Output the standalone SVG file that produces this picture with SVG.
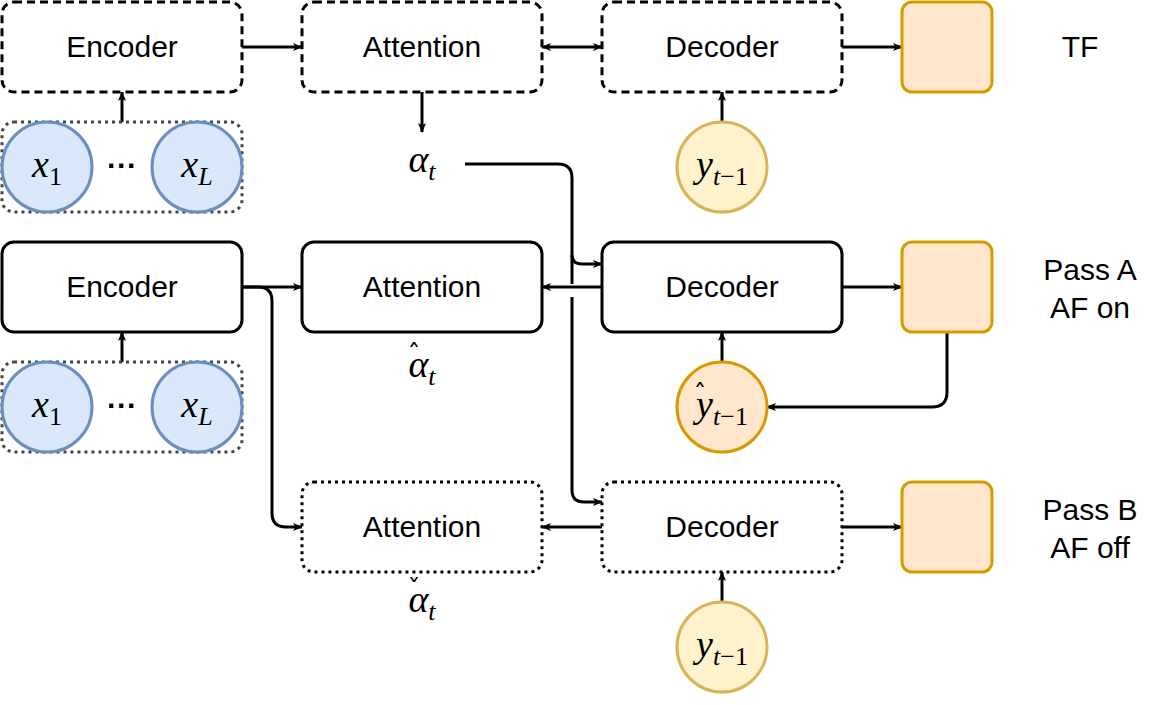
<svg xmlns="http://www.w3.org/2000/svg" width="1173" height="705" viewBox="0 0 1173 705">
<defs>
<marker id="ah" markerWidth="10" markerHeight="8" refX="9" refY="4" orient="auto" markerUnits="userSpaceOnUse"><path d="M0,0 L10,4 L0,8 L2.5,4 Z" fill="#000"/></marker>
<marker id="as" markerWidth="10" markerHeight="8" refX="1" refY="4" orient="auto" markerUnits="userSpaceOnUse"><path d="M10,0 L0,4 L10,8 L7.5,4 Z" fill="#000"/></marker>
<style>
.box{fill:#fff;stroke:#000;stroke-width:3}
.dash{stroke-dasharray:8 5}
.dot{stroke-dasharray:3 4}
.grp{fill:none;stroke:#444;stroke-width:3;stroke-dasharray:3 4}
.t{font-family:"Liberation Sans",Arial,sans-serif;font-size:30px;text-anchor:middle;fill:#000}
.m{font-family:"Liberation Serif","DejaVu Serif",serif;font-style:italic;font-size:38px;text-anchor:middle;fill:#000}
.s{font-size:26px}
.u{font-style:normal}
.acc{font-family:"DejaVu Sans",sans-serif;font-size:26px;text-anchor:middle;fill:#000}
.sq{fill:#ffe6cc;stroke:#d79b00;stroke-width:3}
.xc{fill:#dae8fc;stroke:#6c8ebf;stroke-width:3}
.yc{fill:#fff2cc;stroke:#d6b656;stroke-width:3}
.oc{fill:#ffe6cc;stroke:#d79b00;stroke-width:3}
.c{fill:none;stroke:#000;stroke-width:3;marker-end:url(#ah)}
.l{fill:none;stroke:#000;stroke-width:3}
</style>
</defs>
<g id="connectors">
<path class="c" d="M122,122 V92"/>
<path class="c" d="M242,47 H302"/>
<path class="c" d="M542,47 H602" style="marker-start:url(#as)"/>
<path class="c" d="M842,47 H902"/>
<path class="c" d="M422,92 V132"/>
<path class="c" d="M722,122 V92"/>
<path class="c" d="M465,164 H558 Q572,164 572,178 V255 Q572,264 582,264 H602"/>
<path class="l" d="M572,255 V284"/>
<path class="c" d="M572,297 V490 Q572,502 584,502 H602"/>
<path class="c" d="M122,362 V332"/>
<path class="c" d="M242,287 H302"/>
<path class="c" d="M242,287 H258 Q272,287 272,301 V513 Q272,527 286,527 H302"/>
<path class="c" d="M602,287 H542"/>
<path class="c" d="M842,287 H902"/>
<path class="c" d="M947,332 V392 Q947,407 932,407 H767"/>
<path class="c" d="M722,362 V332"/>
<path class="c" d="M602,527 H542"/>
<path class="c" d="M842,527 H902"/>
<path class="c" d="M722,602 V572"/>
</g>
<g id="enc1"><rect class="box dash" x="2" y="2" width="240" height="90" rx="12"/><text class="t" x="122" y="57">Encoder</text></g>
<g id="att1"><rect class="box dash" x="302" y="2" width="240" height="90" rx="12"/><text class="t" x="422" y="57">Attention</text></g>
<g id="dec1"><rect class="box dash" x="602" y="2" width="240" height="90" rx="12"/><text class="t" x="722" y="57">Decoder</text></g>
<g id="out1"><rect class="sq" x="902" y="2" width="90" height="90" rx="10"/></g>
<g id="tf"><text class="t" x="1080" y="57">TF</text></g>
<g id="in1"><rect class="grp" x="2" y="122" width="240" height="90" rx="12"/>
<circle class="xc" cx="47" cy="167" r="45"/><circle class="xc" cx="197" cy="167" r="45"/>
<text class="m" x="47" y="177">x<tspan class="s u" dy="8">1</tspan></text>
<text class="m" x="197" y="177">x<tspan class="s" dy="8">L</tspan></text>
<text class="t" x="122" y="176" style="font-weight:bold">···</text></g>
<g id="a1"><text class="m" x="422" y="172">α<tspan class="s" dy="8">t</tspan></text></g>
<g id="y1"><circle class="yc" cx="722" cy="167" r="45"/><text class="m" x="722" y="177">y<tspan class="s" dy="8">t<tspan class="u">−1</tspan></tspan></text></g>
<g id="enc2"><rect class="box" x="2" y="242" width="240" height="90" rx="12"/><text class="t" x="122" y="297">Encoder</text></g>
<g id="att2"><rect class="box" x="302" y="242" width="240" height="90" rx="12"/><text class="t" x="422" y="297">Attention</text></g>
<g id="dec2"><rect class="box" x="602" y="242" width="240" height="90" rx="12"/><text class="t" x="722" y="297">Decoder</text></g>
<g id="out2"><rect class="sq" x="902" y="242" width="90" height="90" rx="10"/></g>
<g id="passA"><text class="t" x="1090" y="280">Pass A</text><text class="t" x="1090" y="318">AF on</text></g>
<g id="in2"><rect class="grp" x="2" y="362" width="240" height="90" rx="12"/>
<circle class="xc" cx="47" cy="407" r="45"/><circle class="xc" cx="197" cy="407" r="45"/>
<text class="m" x="47" y="417">x<tspan class="s u" dy="8">1</tspan></text>
<text class="m" x="197" y="417">x<tspan class="s" dy="8">L</tspan></text>
<text class="t" x="122" y="416" style="font-weight:bold">···</text></g>
<g id="a2"><text class="m" x="422" y="377">α<tspan class="s" dy="8">t</tspan></text><text class="acc" x="414" y="364">ˆ</text></g>
<g id="y2"><circle class="oc" cx="722" cy="407" r="45"/><text class="m" x="722" y="417">y<tspan class="s" dy="8">t<tspan class="u">−1</tspan></tspan></text><text class="acc" x="700" y="404">ˆ</text></g>
<g id="att3"><rect class="box dot" x="302" y="482" width="240" height="90" rx="12"/><text class="t" x="422" y="537">Attention</text></g>
<g id="dec3"><rect class="box dot" x="602" y="482" width="240" height="90" rx="12"/><text class="t" x="722" y="537">Decoder</text></g>
<g id="out3"><rect class="sq" x="902" y="482" width="90" height="90" rx="10"/></g>
<g id="passB"><text class="t" x="1090" y="520">Pass B</text><text class="t" x="1090" y="558">AF off</text></g>
<g id="a3"><text class="m" x="422" y="612">α<tspan class="s" dy="8">t</tspan></text><text class="acc" x="414" y="599">ˇ</text></g>
<g id="y3"><circle class="yc" cx="722" cy="647" r="45"/><text class="m" x="722" y="657">y<tspan class="s" dy="8">t<tspan class="u">−1</tspan></tspan></text></g>
</svg>
